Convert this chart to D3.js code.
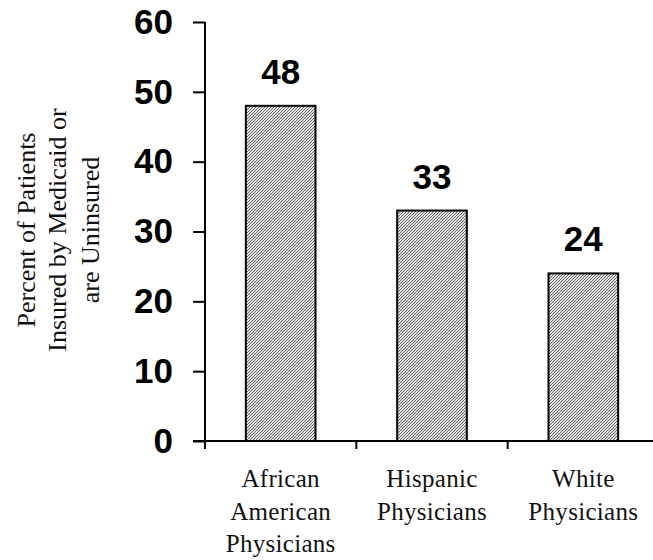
<!DOCTYPE html>
<html>
<head>
<meta charset="utf-8">
<script src="https://cdn.jsdelivr.net/npm/d3@7"></script>
<style>
  html, body { margin: 0; padding: 0; background: #fff; }
  svg { display: block; }
  .serif { font-family: "Liberation Serif", "Times New Roman", "DejaVu Serif", serif; }
  .sansb { font-family: "Liberation Sans", Arial, sans-serif; font-weight: bold; }
</style>
</head>
<body>
<svg id="chart" width="653" height="560"></svg>
<script>
const categories = [["African", "American", "Physicians"], ["Hispanic", "Physicians"], ["White", "Physicians"]];
const categoryKeys = ["African American Physicians", "Hispanic Physicians", "White Physicians"];
const values = [48, 33, 24];
const yTicks = [0, 10, 20, 30, 40, 50, 60];
const yLabelLines = ["Percent of Patients", "Insured by Medicaid or", "are Uninsured"];

const svg = d3.select("#chart");

const defs = svg.append("defs");
const pat = defs.append("pattern")
  .attr("id", "hatch")
  .attr("patternUnits", "userSpaceOnUse")
  .attr("width", 3).attr("height", 3);
pat.append("rect").attr("width", 3).attr("height", 3).attr("fill", "#e4e4e4");
pat.append("path")
  .attr("d", "M0,3 L3,0 M-1,1 L1,-1 M2,4 L4,2")
  .attr("stroke", "#444").attr("stroke-width", 0.8);

const x = d3.scaleBand()
  .domain(categoryKeys)
  .range([205, 659])
  .paddingInner(0.54)
  .paddingOuter(0.27);

const y = d3.scaleLinear().domain([0, 60]).range([441, 22]);

// Bars
svg.append("g").selectAll("rect")
  .data(values)
  .join("rect")
  .attr("x", (d, i) => x(categoryKeys[i]))
  .attr("y", d => y(d))
  .attr("width", x.bandwidth())
  .attr("height", d => y(0) - y(d))
  .attr("fill", "url(#hatch)")
  .attr("stroke", "#000")
  .attr("stroke-width", 2);

// Value labels
svg.append("g").selectAll("text")
  .data(values)
  .join("text")
  .attr("class", "sansb")
  .attr("x", (d, i) => x(categoryKeys[i]) + x.bandwidth() / 2)
  .attr("y", d => y(d) - 22)
  .attr("text-anchor", "middle")
  .attr("font-size", 35)
  .attr("fill", "#000")
  .text(d => d);

// Y axis
const yAxis = d3.axisLeft(y).tickValues(yTicks).tickSize(12).tickPadding(20).tickFormat(d3.format("d"));
const gy = svg.append("g").attr("transform", "translate(205,0)").call(yAxis);
gy.attr("font-family", null).attr("font-size", null);
gy.select(".domain").remove();
gy.selectAll(".tick line").attr("stroke", "#000").attr("stroke-width", 2);
gy.selectAll(".tick text")
  .attr("class", "sansb")
  .attr("font-size", 35)
  .attr("fill", "#000");
gy.append("line")
  .attr("x1", 0).attr("x2", 0)
  .attr("y1", y(60)).attr("y2", y(0) + 8)
  .attr("stroke", "#000").attr("stroke-width", 2);

// X axis line
svg.append("line")
  .attr("x1", 193).attr("x2", 659)
  .attr("y1", y(0)).attr("y2", y(0))
  .attr("stroke", "#000").attr("stroke-width", 2);

// Category boundary ticks
const step = x.step();
const boundaries = categoryKeys.map((k, i) => x(k) - x.paddingInner() * step / 2).slice(1);
svg.append("g").selectAll("line")
  .data(boundaries)
  .join("line")
  .attr("x1", d => d).attr("x2", d => d)
  .attr("y1", y(0)).attr("y2", y(0) + 8)
  .attr("stroke", "#000").attr("stroke-width", 2);

// Category labels
const cl = svg.append("g").selectAll("text")
  .data(categories)
  .join("text")
  .attr("class", "serif")
  .attr("x", (d, i) => x(categoryKeys[i]) + x.bandwidth() / 2)
  .attr("y", 487)
  .attr("text-anchor", "middle")
  .attr("font-size", 25)
  .attr("letter-spacing", 0.3)
  .attr("fill", "#111");
cl.selectAll("tspan")
  .data(d => d)
  .join("tspan")
  .attr("x", function() { return d3.select(this.parentNode).attr("x"); })
  .attr("dy", (d, i) => i === 0 ? 0 : 32.5)
  .text(d => d);

// Y axis title
const yt = svg.append("text")
  .attr("class", "serif")
  .attr("transform", "translate(0,230) rotate(-90)")
  .attr("text-anchor", "middle")
  .attr("font-size", 26)
  .attr("fill", "#111");
yt.selectAll("tspan")
  .data(yLabelLines)
  .join("tspan")
  .attr("x", 0)
  .attr("y", (d, i) => [35, 66, 99][i])
  .text(d => d);
</script>
</body>
</html>
